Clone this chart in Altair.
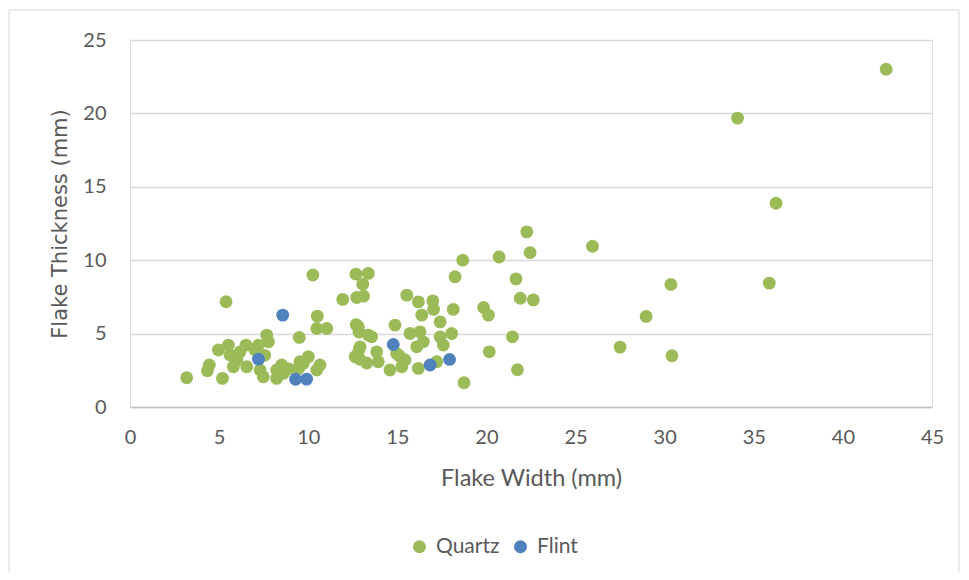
import altair as alt
import pandas as pd

quartz_x = [42.43, 34.09, 36.25, 25.95, 30.35, 35.87, 28.96, 27.50, 30.41, 22.26,
            20.71, 22.45, 18.67, 21.66, 18.24, 21.90, 22.63, 19.84, 20.11, 21.46,
            20.16, 21.74, 18.74, 18.14, 17.40, 17.03, 16.99, 16.18, 15.53, 16.37,
            15.71, 16.27, 16.46, 16.09, 17.40, 18.05, 17.58, 17.21, 16.18, 15.25,
            14.59, 15.43, 14.96, 14.87, 13.84, 13.93, 13.56, 13.37, 12.81, 12.69,
            12.91, 12.85, 12.63, 12.90, 13.28, 13.06, 12.68, 13.37, 11.94, 12.72,
            13.10, 12.85, 10.26, 10.51, 10.48, 11.04, 9.50, 10.01, 9.54, 9.72,
            10.66, 10.48, 9.45, 8.51, 8.23, 8.60, 8.23, 7.48, 7.30, 7.56,
            7.67, 7.77, 7.21, 6.51, 5.52, 4.96, 5.61, 6.17, 5.80, 6.55,
            6.00, 5.39, 4.45, 4.34, 5.19, 3.18, 7.00, 8.90, 15.10]
quartz_y = [23.01, 19.68, 13.88, 10.95, 8.35, 8.44, 6.17, 4.08, 3.49, 11.93,
            10.22, 10.52, 10.00, 8.73, 8.87, 7.41, 7.30, 6.78, 6.26, 4.78,
            3.76, 2.54, 1.65, 6.65, 5.80, 6.65, 7.23, 7.16, 7.62, 6.26,
            5.01, 5.12, 4.44, 4.10, 4.78, 5.01, 4.22, 3.08, 2.63, 2.74,
            2.52, 3.20, 3.65, 5.58, 3.76, 3.08, 4.78, 4.90, 5.46, 5.61,
            4.10, 3.90, 3.42, 3.25, 3.00, 8.37, 9.05, 9.10, 7.33, 7.46,
            7.55, 5.11, 8.99, 6.19, 5.35, 5.35, 4.74, 3.43, 3.09, 2.97,
            2.86, 2.52, 2.63, 2.86, 2.52, 2.29, 1.95, 2.06, 2.52, 3.52,
            4.90, 4.44, 4.22, 4.22, 4.22, 3.88, 3.54, 3.76, 2.74, 2.74,
            3.20, 7.17, 2.86, 2.47, 1.95, 1.99, 3.90, 2.60, 3.50]

flint_x = [8.57, 7.21, 9.29, 9.91, 14.77, 16.84, 17.93]
flint_y = [6.26, 3.26, 1.89, 1.90, 4.26, 2.86, 3.24]

series = ["Quartz", "Flint"]
colors = ["#9BBB59", "#4F81BD"]
x_ticks = [0, 5, 10, 15, 20, 25, 30, 35, 40, 45]
y_ticks = [0, 5, 10, 15, 20, 25]

df = pd.DataFrame({
    "width": quartz_x + flint_x,
    "thickness": quartz_y + flint_y,
    "type": ["Quartz"] * len(quartz_x) + ["Flint"] * len(flint_x),
    "order": [0] * len(quartz_x) + [1] * len(flint_x),
})

label_font = "Lato"
grey = "#595959"

points = alt.Chart(df).mark_circle(size=165, opacity=1).encode(
    x=alt.X("width:Q", title="Flake Width (mm)",
            scale=alt.Scale(domain=[0, 45], nice=False),
            axis=alt.Axis(values=x_ticks, grid=False, ticks=False, labelFlush=False,
                          domainColor="#bfbfbf", domainWidth=1.5,
                          labelFont=label_font, labelFontSize=20, labelColor=grey,
                          labelPadding=20, titleFont=label_font, titleFontSize=23.5,
                          titleFontWeight="normal", titleColor=grey, titlePadding=19)),
    y=alt.Y("thickness:Q", title="Flake Thickness (mm)",
            scale=alt.Scale(domain=[0, 25], nice=False),
            axis=alt.Axis(values=y_ticks, grid=True, gridColor="#d9d9d9", gridWidth=1.3,
                          ticks=False, domain=False, labelFlush=False,
                          labelFont=label_font, labelFontSize=20, labelColor=grey,
                          labelPadding=24, titleFont="DejaVu Sans", titleFontSize=21,
                          titleFontWeight="normal", titleColor=grey, titlePadding=12)),
    color=alt.Color("type:N", scale=alt.Scale(domain=series, range=colors),
                    legend=alt.Legend(title=None, orient="none", direction="horizontal",
                                      legendX=279, legendY=496, symbolType="circle",
                                      symbolSize=170, symbolStrokeWidth=0,
                                      labelFont=label_font, labelFontSize=21,
                                      labelColor=grey, columnPadding=10, labelOffset=6)),
    order=alt.Order("order:Q"),
)

frame = alt.Chart(pd.DataFrame({"a": [0]})).mark_rect(
    fill=None, stroke="#d9d9d9", strokeWidth=1
).encode(
    x=alt.value(-121), x2=alt.value(829), y=alt.value(-30), y2=alt.value(600)
)

chart = alt.layer(frame, points).properties(
    width=802, height=367,
    autosize=alt.AutoSizeParams(type="none"),
    padding={"left": 122, "top": 32, "right": 29, "bottom": 165},
).configure_view(stroke=None).configure(background="white")

chart.save("out.html", embed_options={"renderer": "svg", "actions": False})
